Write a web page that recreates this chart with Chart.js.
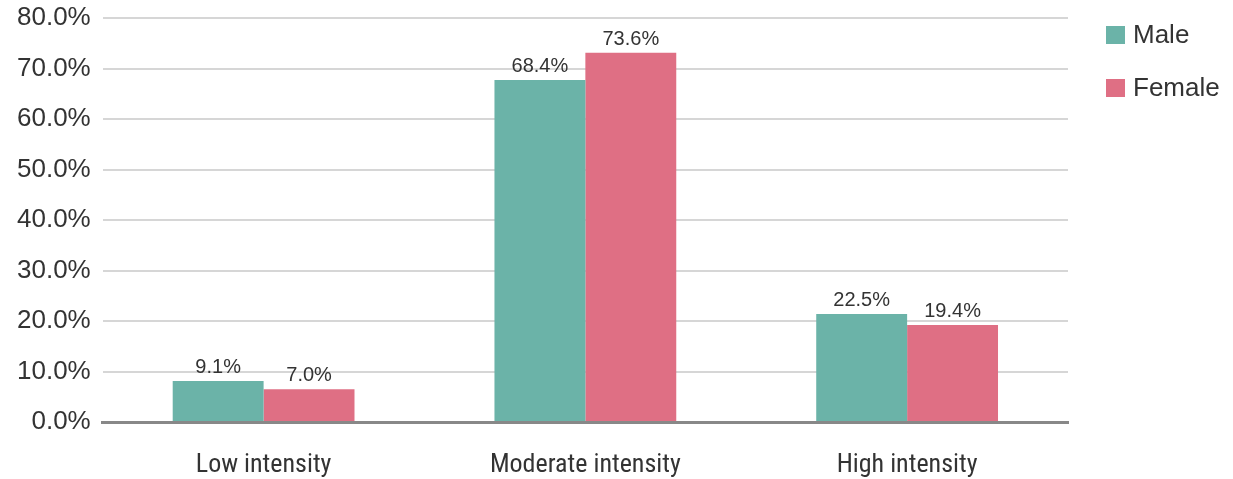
<!DOCTYPE html>
<html>
<head>
<meta charset="utf-8">
<script src="https://cdn.jsdelivr.net/npm/chart.js@4"></script>
<style>
  html, body { margin: 0; padding: 0; background: #fff; overflow: hidden; }
  #wrap { position: relative; width: 1233px; height: 479px; }
  canvas { display: block; }
  #legend { position: absolute; left: 1106px; top: 21px; font: 26px "Liberation Sans", Arial, sans-serif; color: #333; }
  #legend .item { display: flex; align-items: center; height: 27px; margin-bottom: 26px; }
  #legend .box { width: 19px; height: 18px; margin-right: 8px; }
</style>
</head>
<body>
<div id="wrap">
  <canvas id="chart" width="1233" height="479"></canvas>
  <div id="legend"></div>
</div>
<script>
// categories + series (bar heights as drawn, labels as printed)
const categories = ['Low intensity', 'Moderate intensity', 'High intensity'];
const maleValues = [8.1, 67.7, 21.4];
const femaleValues = [6.5, 73.1, 19.2];
const maleLabels = ['9.1%', '68.4%', '22.5%'];
const femaleLabels = ['7.0%', '73.6%', '19.4%'];
const yTicks = [0, 10, 20, 30, 40, 50, 60, 70, 80];

const textColor = '#333333';
const sans = '"Liberation Sans", Arial, sans-serif';

// small plugin to print the value above each bar
const barLabels = {
  id: 'barLabels',
  afterDatasetsDraw(chart) {
    const ctx = chart.ctx;
    ctx.save();
    ctx.font = '20px ' + sans;
    ctx.fillStyle = textColor;
    ctx.textAlign = 'center';
    ctx.textBaseline = 'alphabetic';
    chart.data.datasets.forEach((ds, i) => {
      chart.getDatasetMeta(i).data.forEach((bar, j) => {
        ctx.fillText(ds.printed[j], bar.x, bar.y - 8);
      });
    });
    ctx.restore();
  }
};

const chart = new Chart(document.getElementById('chart'), {
  type: 'bar',
  data: {
    labels: categories,
    datasets: [
      { label: 'Male', data: maleValues, printed: maleLabels, backgroundColor: '#6bb3a8' },
      { label: 'Female', data: femaleValues, printed: femaleLabels, backgroundColor: '#df6f84' }
    ]
  },
  options: {
    responsive: false,
    animation: false,
    layout: { padding: { top: 2, left: 5, right: 165, bottom: 0 } },
    datasets: { bar: { categoryPercentage: 0.565, barPercentage: 1.0 } },
    scales: {
      x: {
        grid: { display: false },
        border: { color: '#888888', width: 3 },
        afterFit: s => { s.height = 57; },
        ticks: {
          color: textColor,
          padding: 20,
          font: { family: '"Roboto Condensed", "Liberation Sans", sans-serif', size: 26 }
        }
      },
      y: {
        min: 0,
        max: 80,
        afterBuildTicks: axis => { axis.ticks = yTicks.map(v => ({ value: v })); },
        afterFit: s => { s.paddingTop = 18; },
        grid: { color: '#d6d6d6', lineWidth: 2, drawTicks: false },
        border: { display: false },
        ticks: {
          color: textColor,
          padding: 12,
          font: { family: sans, size: 26 },
          callback: v => v.toFixed(1) + '%'
        }
      }
    },
    plugins: {
      legend: { display: false },
      tooltip: { enabled: false }
    }
  },
  plugins: [barLabels]
});

// html legend from the datasets
const legend = document.getElementById('legend');
chart.data.datasets.forEach(ds => {
  const item = document.createElement('div');
  item.className = 'item';
  item.innerHTML = `<span class="box" style="background:${ds.backgroundColor}"></span><span>${ds.label}</span>`;
  legend.appendChild(item);
});
</script>
</body>
</html>
